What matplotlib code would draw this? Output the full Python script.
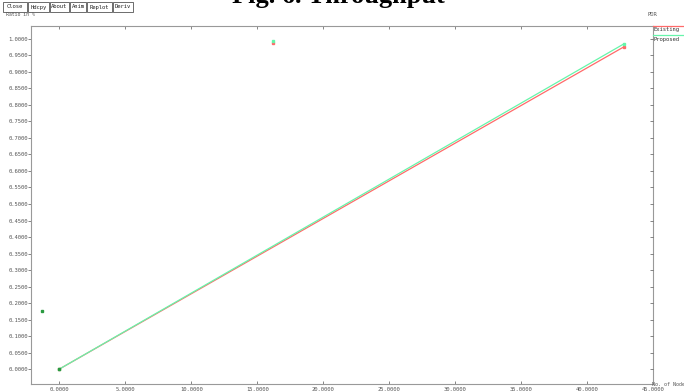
import matplotlib
matplotlib.use("Agg")
import matplotlib.pyplot as plt
from matplotlib.patches import Rectangle

W, H = 684, 392

# series
nodes = [0.0, 42.8]
existing = [0.0, 0.976]
proposed = [0.0, 0.985]

# stray points plotted by xgraph outside the line segments
stray_x = [16.2, 16.2]
stray_existing = [0.988]
stray_proposed = [0.994]
extra_x = [-1.3, 0.0]
extra_y = [0.175, 0.0]

xticks = [0, 5, 10, 15, 20, 25, 30, 35, 40, 45]
yticks = [i * 0.05 for i in range(21)]
buttons = ["Close", "Hdcpy", "About", "Anim", "Replot", "Deriv"]

red = "#ff6a6a"
green = "#66f5aa"
grey = "#555555"
mono = "DejaVu Sans Mono"

fig = plt.figure(figsize=(W / 100, H / 100), dpi=100)
ax = fig.add_axes([31 / W, (H - 384) / H, (653 - 31) / W, (384 - 26) / H])

ax.plot(nodes, existing, color=red, lw=0.9, marker="s", ms=1.8)
ax.plot(nodes, proposed, color=green, lw=0.9, marker="s", ms=1.8)
ax.plot(stray_x[:1], stray_existing, ls="none", marker="s", ms=1.6, color=red)
ax.plot(stray_x[1:], stray_proposed, ls="none", marker="s", ms=1.6, color=green)
ax.plot(extra_x, extra_y, ls="none", marker="s", ms=1.6, color="#2a9a40")

ax.set_xlim(-2.14, 45)
ax.set_ylim(-0.045, 1.039)
ax.set_xticks(xticks)
ax.set_yticks(yticks)
ax.set_xticklabels([f"{v:.4f}" for v in xticks], fontsize=4, family=mono, color=grey)
ax.set_yticklabels([f"{v:.4f}" for v in yticks], fontsize=4, family=mono, color=grey)
ax.tick_params(axis="y", direction="out", length=2, width=0.5, color=grey, pad=0.3)
ax.tick_params(axis="x", direction="in", length=2, width=0.5, color=grey, pad=2,
               top=True)
for s in ax.spines.values():
    s.set_color("#999999")
    s.set_linewidth(0.8)

# inward ticks on the right edge
ax_r = ax.twinx()
ax_r.set_ylim(ax.get_ylim())
ax_r.set_yticks(yticks)
ax_r.tick_params(axis="y", direction="in", length=2, width=0.5, color=grey,
                 labelright=False)
for s in ax_r.spines.values():
    s.set_visible(False)

# title, partly clipped at the top edge
fig.text(338 / W, (H - 3.5) / H, "Fig. 6. Throughput", ha="center", va="baseline",
         fontsize=19, fontweight="bold", family="Liberation Serif")

# xgraph button bar
bx = [3, 28, 50, 70, 87, 113, 134]
for i, b in enumerate(buttons):
    x0, x1 = bx[i], bx[i + 1] - 1
    fig.patches.append(Rectangle((x0 / W, (H - 12) / H), (x1 - x0) / W, 10 / H,
                                 transform=fig.transFigure, fill=False,
                                 ec="#333333", lw=0.5))
    fig.text((x0 + x1) / 2 / W, (H - 7) / H, b, ha="center", va="center",
             fontsize=4, family=mono, color="#222222")

fig.text(6 / W, (H - 15) / H, "Ratio in %", fontsize=3.5, family=mono,
         color=grey, va="center")
fig.text(647 / W, (H - 14) / H, "PDR", fontsize=4, family=mono, color=grey,
         va="center")
fig.text(652 / W, (H - 384) / H, "No. of Node", fontsize=3.6, family=mono,
         color=grey, va="center")

# legend to the right of the plot
for label, col, ly in [("Existing", red, 26), ("Proposed", green, 35)]:
    fig.lines.append(plt.Line2D([653 / W, 684 / W], [(H - ly) / H] * 2,
                                transform=fig.transFigure, color=col, lw=0.9))
    fig.text(654 / W, (H - ly - 4) / H, label, fontsize=4, family=mono,
             color="#333333", va="center")

fig.savefig("out.png", dpi=100)
